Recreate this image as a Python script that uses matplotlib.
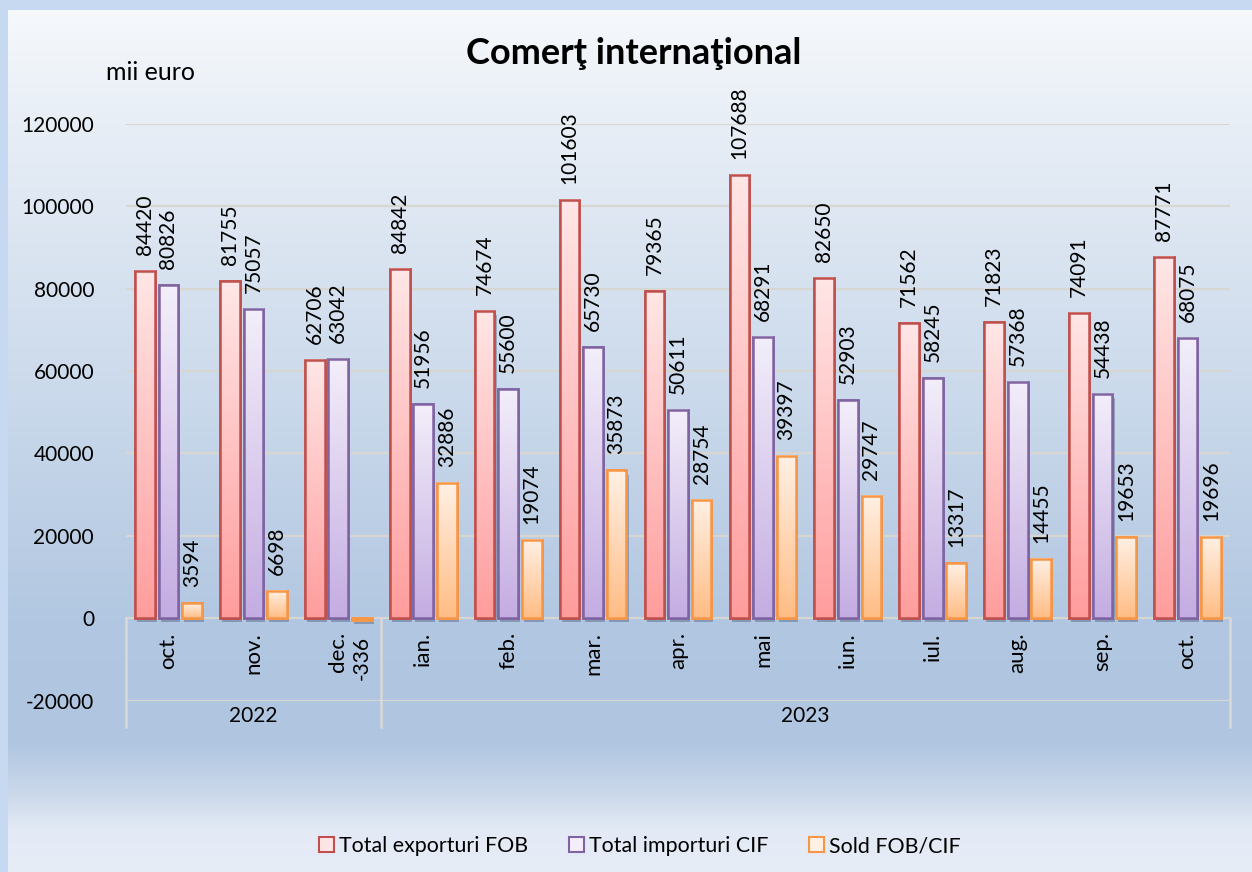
import numpy as np
import matplotlib.pyplot as plt
import matplotlib.patheffects as pe
from matplotlib.patches import Patch
from matplotlib.colors import to_rgb

plt.rcParams['font.family'] = ['Lato', 'DejaVu Sans']
plt.rcParams['axes.unicode_minus'] = False

# data (mii euro)
months = ['oct.', 'nov.', 'dec.', 'ian.', 'feb.', 'mar.', 'apr.', 'mai', 'iun.', 'iul.',
          'aug.', 'sep.', 'oct.']
years = ['2022', '2023']
year_span = [(0, 2), (3, 12)]
exports = [84420, 81755, 62706, 84842, 74674, 101603, 79365, 107688, 82650, 71562,
           71823, 74091, 87771]
imports = [80826, 75057, 63042, 51956, 55600, 65730, 50611, 68291, 52903, 58245,
           57368, 54438, 68075]
balance = [3594, 6698, -336, 32886, 19074, 35873, 28754, 39397, 29747, 13317,
           14455, 19653, 19696]
series_names = ['Total exporturi FOB', 'Total importuri CIF', 'Sold FOB/CIF']

# styles: (top colour, bottom colour, edge)
styles = [('#ffe6e6', '#ff9d9d', '#c0504d'),
          ('#f3eefa', '#c4ade2', '#8064a2'),
          ('#fff0e4', '#ffbd85', '#f79646')]

fig = plt.figure(figsize=(12.52, 8.72), dpi=100, facecolor='#c6d9f0')

# background gradient panel
bg = fig.add_axes([8 / 1252, 0, 1, 1 - 10 / 872], zorder=-10)
stops_y = [0, 114, 390, 610, 730, 780, 820, 862]
stops_c = ['#f6f9fc', '#e8eef6', '#cad9eb', '#b2c7e1', '#afc5e0', '#c9d7ea', '#e3eaf5', '#e6edf7']
yy = np.arange(862)
cols = np.array([to_rgb(c) for c in stops_c])
grad = np.stack([np.interp(yy, stops_y, cols[:, k]) for k in range(3)], axis=1)
bg.imshow(grad[:, None, :], aspect='auto', extent=[0, 1, 0, 1])
bg.set_axis_off()

ax = fig.add_axes([126 / 1252, 1 - 700.5 / 872, (1230 - 126) / 1252, (700.5 - 124) / 872])
ax.patch.set_alpha(0)

x = np.arange(len(months))
offs = [-0.277, 0.0, 0.277]
w = 0.232
shadow = [pe.SimplePatchShadow(offset=(1.5, -3), shadow_rgbFace='#34466a', alpha=0.35),
          pe.Normal()]
for vals, off, (ctop, cbot, cedge) in zip([exports, imports, balance], offs, styles):
    bars = ax.bar(x + off, vals, width=w, color=cbot, edgecolor=cedge, linewidth=1.8,
                  zorder=3, path_effects=shadow)
    g = np.stack([np.linspace(a, b, 64) for a, b in zip(to_rgb(ctop), to_rgb(cbot))], axis=1)
    for p in bars:
        x0, y0, bw, bh = p.get_x(), p.get_y(), p.get_width(), p.get_height()
        ax.imshow(g[:, None, :], extent=[x0, x0 + bw, min(y0, y0 + bh), max(y0, y0 + bh)],
                  aspect='auto', zorder=3.1, interpolation='bilinear')
    ax.bar(x + off, vals, width=w, color='none', edgecolor=cedge, linewidth=1.8, zorder=3.2)
    for xi, v in zip(x + off, vals):
        if v >= 0:
            ax.annotate(str(v), (xi, v), xytext=(0, 16), textcoords='offset pixels',
                        rotation=90, ha='center', va='bottom', fontsize=15, zorder=5)
        else:
            ax.annotate(str(v), (xi, v), xytext=(0, -16), textcoords='offset pixels',
                        rotation=90, ha='center', va='top', fontsize=15, zorder=5)

ax.set_xlim(-0.5, len(months) - 0.5)
ax.set_ylim(-20000, 120000)
ax.set_yticks(np.arange(-20000, 120001, 20000))
ax.set_xticks([])
ax.tick_params(axis='y', length=0, pad=23, labelsize=15)
ax.grid(axis='y', color='#d8d6d0', linewidth=1.6, zorder=1)
for s in ax.spines.values():
    s.set_visible(False)

# category labels
for xi, m in zip(x, months):
    ax.annotate(m, (xi, 0), xytext=(0, -14), textcoords='offset pixels', rotation=90,
                ha='center', va='top', fontsize=16)
# year groups
bounds = [-0.5] + [b + 0.5 for _, b in year_span]
for b in bounds:
    ax.plot([b, b], [0, -26500], color='#d9d9d9', linewidth=1.8, clip_on=False, zorder=2)
for yr, (a, b) in zip(years, year_span):
    ax.annotate(yr, ((a + b) / 2, -20000), xytext=(0, -15), textcoords='offset pixels',
                ha='center', va='center', fontsize=15, annotation_clip=False)

fig.text(0.506, 1 - 54 / 872, 'Comerţ internaţional', ha='center', va='center',
         fontsize=26, fontweight='bold')
fig.text(106 / 1252, 1 - 72 / 872, 'mii euro', ha='left', va='center', fontsize=18)

handles = [Patch(facecolor=st[0], edgecolor=st[2], linewidth=1.5) for st in styles]
fig.legend(handles, series_names, loc='center', bbox_to_anchor=(0.511, 1 - 846 / 872),
           ncol=3, frameon=False, fontsize=15.4, handlelength=0.7, handleheight=0.7,
           handletextpad=0.25, columnspacing=1.9)

fig.savefig('out.png', dpi=100, facecolor=fig.get_facecolor())
